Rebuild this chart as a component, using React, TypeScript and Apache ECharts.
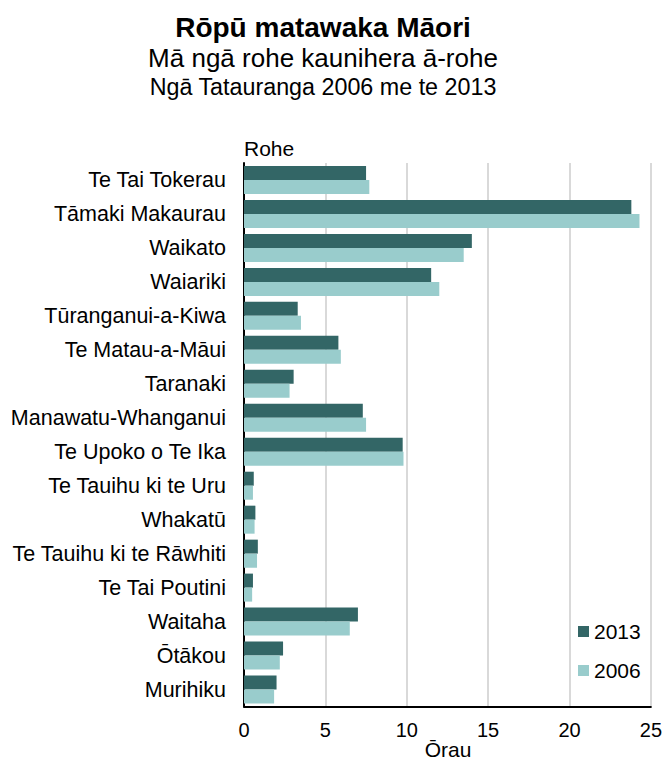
import React, { useEffect, useRef } from "react";
import * as echarts from "echarts";

const categories = [
  "Te Tai Tokerau",
  "Tāmaki Makaurau",
  "Waikato",
  "Waiariki",
  "Tūranganui-a-Kiwa",
  "Te Matau-a-Māui",
  "Taranaki",
  "Manawatu-Whanganui",
  "Te Upoko o Te Ika",
  "Te Tauihu ki te Uru",
  "Whakatū",
  "Te Tauihu ki te Rāwhiti",
  "Te Tai Poutini",
  "Waitaha",
  "Ōtākou",
  "Murihiku",
];

const values2013 = [7.5, 23.8, 14.0, 11.5, 3.3, 5.8, 3.05, 7.3, 9.75, 0.6, 0.7, 0.85, 0.55, 7.0, 2.4, 2.0];
const values2006 = [7.7, 24.3, 13.5, 12.0, 3.5, 5.95, 2.8, 7.5, 9.8, 0.55, 0.65, 0.8, 0.5, 6.5, 2.2, 1.85];

const seriesNames = ["2013", "2006"];
const xTicks = { min: 0, max: 25, interval: 5 };

const FONT = "'Liberation Sans', Arial, sans-serif";

export default function App() {
  const ref = useRef<HTMLDivElement>(null);
  useEffect(() => {
    if (!ref.current) return;
    const chart = echarts.init(ref.current, null, { renderer: "svg" });
    chart.setOption({
      animation: false,
      backgroundColor: "#ffffff",
      textStyle: { fontFamily: FONT, color: "#000" },
      title: [
        {
          text: "Rōpū matawaka Māori",
          left: 323,
          top: 13,
          padding: 0,
          textAlign: "center",
          textStyle: { fontFamily: FONT, fontSize: 28, fontWeight: "bold", color: "#000" },
        },
        {
          text: "Mā ngā rohe kaunihera ā-rohe",
          left: 323,
          top: 45,
          padding: 0,
          textAlign: "center",
          textStyle: { fontFamily: FONT, fontSize: 26, fontWeight: "normal", color: "#000" },
        },
        {
          text: "Ngā Tatauranga 2006 me te 2013",
          left: 323,
          top: 75,
          padding: 0,
          textAlign: "center",
          textStyle: { fontFamily: FONT, fontSize: 23.3, fontWeight: "normal", color: "#000" },
        },
      ],
      legend: {
        data: seriesNames,
        orient: "vertical",
        left: 578,
        top: 621,
        padding: 0,
        itemWidth: 11,
        itemHeight: 11,
        itemGap: 18,
        icon: "rect",
        textStyle: { fontFamily: FONT, fontSize: 21, color: "#000" },
      },
      grid: { left: 244, right: 665 - 651.7, top: 163, bottom: 763 - 706.5, containLabel: false },
      xAxis: {
        type: "value",
        min: xTicks.min,
        max: xTicks.max,
        interval: xTicks.interval,
        axisLine: { show: true, lineStyle: { color: "#000", width: 2 } },
        axisTick: { show: false },
        axisLabel: { fontFamily: FONT, fontSize: 20, color: "#000", margin: 13 },
        splitLine: { show: true, lineStyle: { color: "#d9d9d9", width: 2 } },
      },
      yAxis: {
        type: "category",
        inverse: true,
        data: categories,
        axisLine: { show: true, lineStyle: { color: "#000", width: 2 } },
        axisTick: { show: false },
        axisLabel: { fontFamily: FONT, fontSize: 21.5, color: "#000", margin: 18 },
        splitLine: { show: false },
      },
      graphic: [
        {
          type: "text",
          left: 244,
          top: 138,
          style: { text: "Rohe", fontFamily: FONT, fontSize: 21, fill: "#000" },
        },
        {
          type: "text",
          x: 448,
          y: 749,
          style: {
            text: "Ōrau",
            fontFamily: FONT,
            fontSize: 21,
            fill: "#000",
            textAlign: "center",
            textVerticalAlign: "middle",
          },
        },
      ],
      series: [
        {
          name: seriesNames[0],
          type: "bar",
          data: values2013,
          barWidth: 14,
          barGap: "0%",
          itemStyle: { color: "#336666" },
        },
        {
          name: seriesNames[1],
          type: "bar",
          data: values2006,
          barWidth: 14,
          barGap: "0%",
          itemStyle: { color: "#99cccc" },
        },
      ],
    });
    return () => chart.dispose();
  }, []);
  return (
    <div
      ref={ref}
      style={{ position: "fixed", left: 0, top: 0, width: 665, height: 763, background: "#fff" }}
    />
  );
}
